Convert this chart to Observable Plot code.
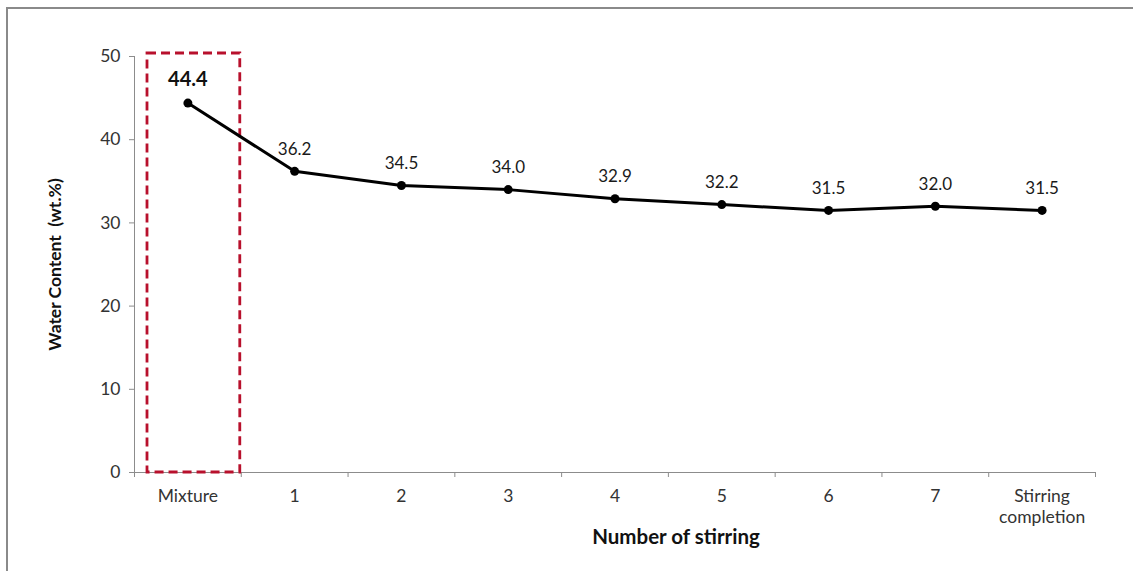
<!DOCTYPE html>
<html>
<head>
<meta charset="utf-8">
<script src="https://cdn.jsdelivr.net/npm/d3@7"></script>
<script src="https://cdn.jsdelivr.net/npm/@observablehq/plot@0.6"></script>
<style>
  html, body { margin: 0; padding: 0; background: #fff; }
  #wrap { position: relative; width: 1133px; height: 571px; overflow: hidden; }
  #frame { position: absolute; left: 6px; top: 7px; right: -10px; bottom: -10px;
           border-left: 2px solid #8a8a8a; border-top: 2px solid #8a8a8a; }
  #chart { position: absolute; left: 0; top: 0; }
</style>
</head>
<body>
<div id="wrap"><div id="frame"></div><div id="chart"></div></div>
<script>
// Stirring stages and the measured water content after each one
const categories = ["Mixture", "1", "2", "3", "4", "5", "6", "7", "Stirring\ncompletion"];
const waterContent = [44.4, 36.2, 34.5, 34.0, 32.9, 32.2, 31.5, 32.0, 31.5];
const yTicks = [0, 10, 20, 30, 40, 50];
const highlighted = ["Mixture"];

const data = categories.map((c, i) => ({i, stage: c, value: waterContent[i]}));
const boxes = highlighted.map(c => ({i: categories.indexOf(c)}));
const font = "Lato, 'Open Sans', sans-serif";

const chart = Plot.plot({
  width: 1133,
  height: 571,
  marginLeft: 134,
  marginRight: 38,
  marginTop: 56,
  marginBottom: 99,
  style: {fontFamily: font, background: "transparent", overflow: "visible"},
  x: {type: "linear", domain: [-0.5, categories.length - 0.5]},
  y: {domain: [0, 50]},
  marks: [
    // axis lines
    Plot.ruleX([-0.5], {stroke: "#8c8c8c", strokeWidth: 1}),
    Plot.ruleY([0], {stroke: "#8c8c8c", strokeWidth: 1}),
    // y axis
    Plot.axisY({ticks: yTicks, tickSize: 5, tickPadding: 9, stroke: "#8c8c8c",
      color: "#333", fontSize: 17.5, label: null}),
    // x ticks at the category boundaries, labels at the centres
    Plot.axisX({ticks: d3.range(-0.5, categories.length), tickSize: 5,
      tickFormat: () => "", stroke: "#8c8c8c", label: null}),
    Plot.axisX({ticks: d3.range(categories.length), tickSize: 0, tickPadding: 15,
      tickFormat: i => categories[i], color: "#333", fontSize: 17.5,
      lineHeight: 1.2, label: null}),
    // highlight box round the first stage
    Plot.rect(boxes, {x1: d => d.i - 0.5, x2: d => d.i + 0.5, y1: 0, y2: 50,
      fill: "none", stroke: "#b8102c", strokeWidth: 2.8, strokeDasharray: "9,5",
      insetLeft: 13, insetRight: 1, insetTop: -3}),
    // series
    Plot.line(data, {x: "i", y: "value", stroke: "#000", strokeWidth: 3}),
    Plot.dot(data, {x: "i", y: "value", r: 4.5, fill: "#000"}),
    // value labels
    Plot.text(data.slice(1), {x: "i", y: "value", text: d => d.value.toFixed(1),
      dy: -22, fontSize: 17, fill: "#1a1a1a"}),
    Plot.text(data.slice(0, 1), {x: "i", y: "value", text: d => d.value.toFixed(1),
      dy: -23, fontSize: 20, fontWeight: "bold", fill: "#111"}),
    // axis titles
    Plot.text(["Water Content  (wt.%)"], {frameAnchor: "left", textAnchor: "middle",
      rotate: -90, dx: -79, fontSize: 17.5, fontWeight: "bold", fill: "#111"}),
    Plot.text(["Number of stirring"], {frameAnchor: "bottom", textAnchor: "middle",
      dy: 71, dx: 61, fontSize: 20.5, fontWeight: "bold", fill: "#111"})
  ]
});
document.getElementById("chart").appendChild(chart);
</script>
</body>
</html>
